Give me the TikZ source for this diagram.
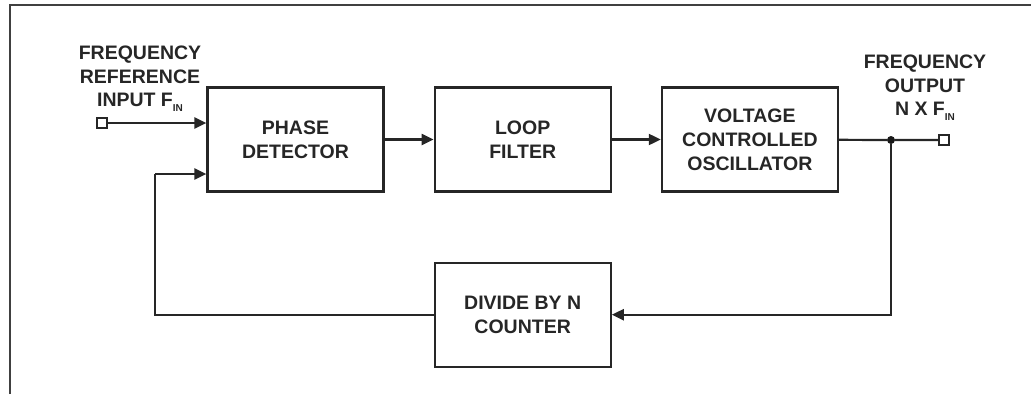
\documentclass[tikz,border=0pt]{standalone}
\usepackage{fontspec}
\setmainfont{Liberation Sans}
\usetikzlibrary{positioning,arrows.meta}

\newcommand{\fin}{F\raisebox{-0.45ex}{\fontsize{10}{10}\selectfont IN}}

\begin{document}
\begin{tikzpicture}[x=1pt, y=-1pt,
          box/.style={rectangle, draw=black!85, line width=2.2pt,
              minimum width=176pt, minimum height=104pt,
              font=\fontsize{19.5}{24}\selectfont\bfseries, align=center,
              text=black!85},
          lbl/.style={font=\fontsize{19.5}{23.5}\selectfont\bfseries,
              align=center, text=black!85},
          port/.style={rectangle, draw=black!85, line width=1.8pt,
              minimum size=10pt, inner sep=0pt},
          dot/.style={circle, fill=black!90, minimum size=8pt, inner sep=0pt},
          wire/.style={draw=black!85, line width=2.2pt},
          arr/.style={wire, -{Triangle[length=12pt, width=11pt]}}
        ]
        \useasboundingbox (0,0) rectangle (1031,394);
        \draw[black!75, line width=2.4pt] (10,394) -- (10,5) -- (1031,5);

        \node[box] at (295.5,139.5) (pd)  {PHASE\\DETECTOR};
        \node[box, right=49pt of pd]  (lf)  {LOOP\\FILTER};
        \node[box, right=49pt of lf]  (vco) {VOLTAGE\\CONTROLLED\\OSCILLATOR};
        \node[box, below=69pt of lf]  (div) {DIVIDE BY N\\COUNTER};

        \node[port] at (102,123) (fin) {};
        \node[lbl] at (140,79) (inlbl) {FREQUENCY\\REFERENCE\\INPUT \fin};
        \node[dot] at (891,140) (tap) {};
        \node[port] at (944,140) (fout) {};
        \node[lbl] at (925,88) (outlbl) {FREQUENCY\\OUTPUT\\N X \fin};
        \coordinate (fbk) at (155,174);

        \draw[arr] (fin)  -- (fin -| pd.west);
        \draw[arr] (pd)   -- (lf);
        \draw[arr] (lf)   -- (vco);
        \draw[wire] (vco) -- (tap) -- (fout);
        \draw[arr] (tap) |- (div);
        \draw[wire] (div) -| (fbk);
        \draw[arr] (fbk) -- (fbk -| pd.west);
      \end{tikzpicture}
\end{document}
